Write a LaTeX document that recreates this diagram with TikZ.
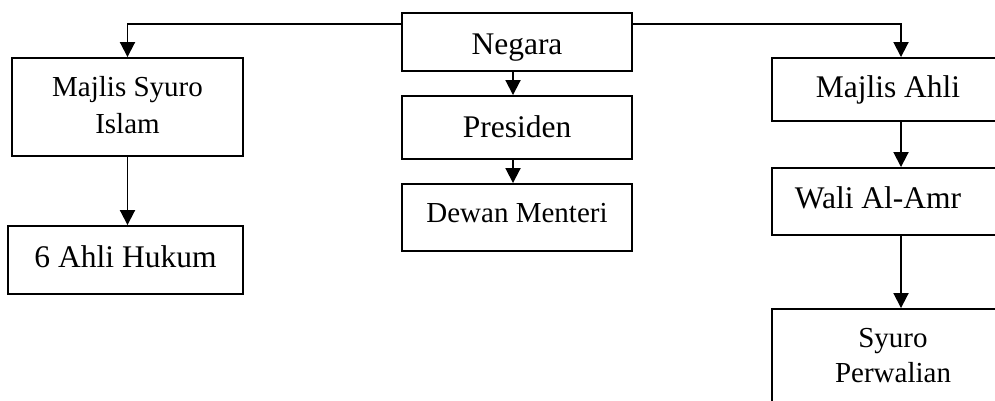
\documentclass[tikz,border=0pt]{standalone}
\usepackage{fontspec}
\setmainfont{Liberation Serif}
\usetikzlibrary{arrows.meta}
\begin{document}
\begin{tikzpicture}[x=1pt,y=-1pt,
  box/.style={draw,line width=1.9pt,inner sep=0pt},
  big/.style={font=\fontsize{31.5}{36}\selectfont,inner sep=0pt,anchor=base},
  small/.style={font=\fontsize{29}{36}\selectfont,inner sep=0pt,anchor=base},
  arr/.style={line width=1.9pt,-{Triangle[width=15pt,length=15pt]}}]
\useasboundingbox (0,0) rectangle (995,401);
\clip (0,0) rectangle (995,401);
% boxes
\node[box,minimum width=231pt,minimum height=98pt] (ms) at (127.5,107) {};
\node[box,minimum width=235pt,minimum height=68pt] (ah) at (125.5,260) {};
\node[box,minimum width=230pt,minimum height=58pt] (ng) at (517,42) {};
\node[box,minimum width=230pt,minimum height=63pt] (pr) at (517,127.5) {};
\node[box,minimum width=230pt,minimum height=67pt] (dm) at (517,217.5) {};
\node[box,minimum width=258pt,minimum height=63pt] (mah) at (901,89.5) {};
\node[box,minimum width=258pt,minimum height=67pt] (wa) at (901,201.5) {};
\node[box,minimum width=258pt,minimum height=131pt] (sp) at (901,374.5) {};
% texts
\node[small] (t1) at (127.5,97) {Majlis Syuro};
\node[small] (t2) at (127.5,133) {Islam};
\node[big] (t3) at (125.5,267) {6 Ahli Hukum};
\node[big] (t4) at (517,55) {Negara};
\node[big] (t5) at (517,137) {Presiden};
\node[small] (t6) at (517,222) {Dewan Menteri};
\node[big] (t7) at (888,98) {Majlis Ahli};
\node[big] (t8) at (878,208) {Wali Al-Amr};
\node[small] (t9) at (893,347) {Syuro};
\node[small] (t10) at (893,382) {Perwalian};
% connectors
\draw[arr] ([yshift=18pt]ng.west) -| (ms.north);
\draw[arr] ([yshift=18pt]ng.east) -| (mah.north);
\draw[arr] (ms.south) -- (ms.south |- ah.north);
\draw[arr] ([xshift=-4pt]ng.south) -- ([xshift=-4pt]pr.north);
\draw[arr] ([xshift=-4pt]pr.south) -- ([xshift=-4pt]dm.north);
\draw[arr] (mah.south) -- (wa.north);
\draw[arr] (wa.south) -- (sp.north);
\end{tikzpicture}
\end{document}
